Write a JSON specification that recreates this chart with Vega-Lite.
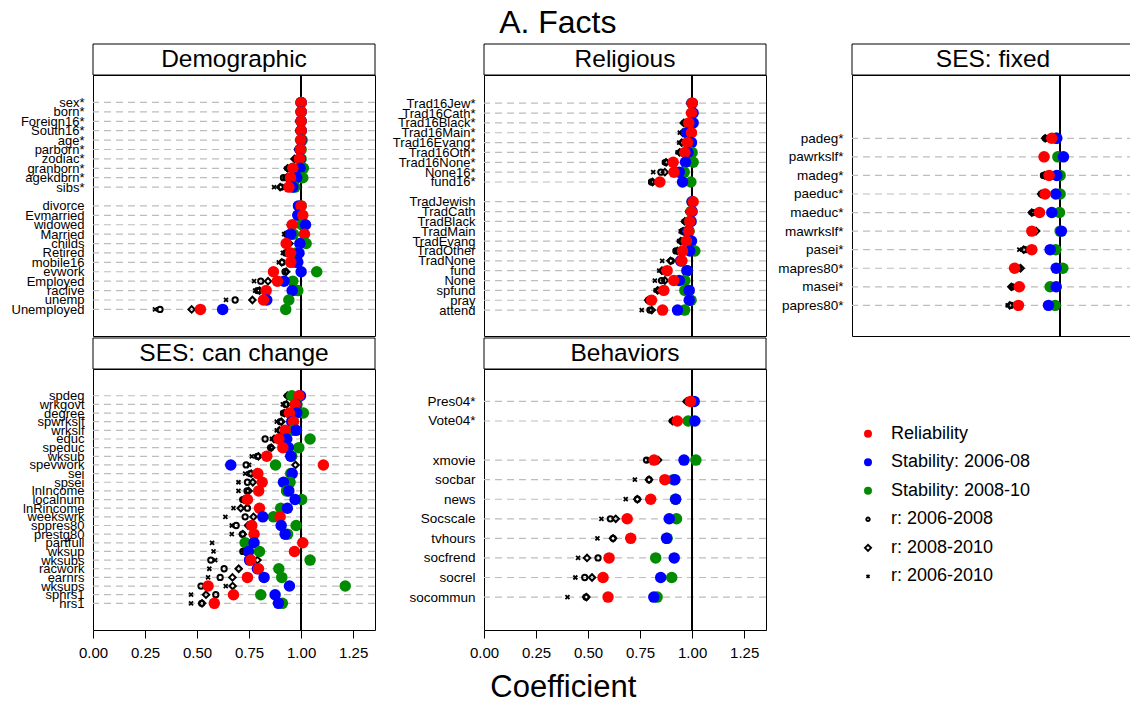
{
"$schema": "https://vega.github.io/schema/vega-lite/v6.json",
"padding": {"top": 6, "left": 0, "right": 0, "bottom": 0},
"background": "white",
"title": {"text": "A. Facts", "fontSize": 32, "fontWeight": "normal", "color": "black", "anchor": "middle", "offset": 4, "dx": -10},
"config": {
  "font": "Liberation Sans",
  "view": {"stroke": "black", "strokeWidth": 1},
  "axis": {"labelFont": "Liberation Sans", "titleFont": "Liberation Sans", "grid": false},
  "title": {"font": "Liberation Sans"}
},
"datasets": {
  "d": [
    {"p":"Dem","v":"sex*","r":1.0,"b":1.0,"g":1.0,"o":0.995,"d":0.995,"c":0.995},
    {"p":"Dem","v":"born*","r":1.0,"b":1.0,"g":1.0,"o":0.995,"d":0.995,"c":0.995},
    {"p":"Dem","v":"Foreign16*","r":1.0,"b":1.0,"g":1.0,"o":0.99,"d":0.99,"c":0.99},
    {"p":"Dem","v":"South16*","r":1.0,"b":1.0,"g":1.0,"o":0.99,"d":0.99,"c":0.99},
    {"p":"Dem","v":"age*","r":0.998,"b":1.0,"g":1.005,"o":0.99,"d":0.99,"c":0.99},
    {"p":"Dem","v":"parborn*","r":0.997,"b":0.995,"g":1.0,"o":0.985,"d":0.985,"c":0.985},
    {"p":"Dem","v":"zodiac*","r":0.992,"b":0.995,"g":1.0,"o":0.975,"d":0.968,"c":0.97},
    {"p":"Dem","v":"granborn*","r":0.96,"b":0.995,"g":1.011,"o":0.94,"d":0.935,"c":0.93},
    {"p":"Dem","v":"agekdbrn*","r":0.949,"b":0.979,"g":1.008,"o":0.915,"d":0.93,"c":0.92},
    {"p":"Dem","v":"sibs*","r":0.941,"b":0.96,"g":0.97,"o":0.905,"d":0.899,"c":0.87},
    {"p":"Dem","v":"divorce","r":1.0,"b":0.987,"g":1.0,"o":0.99,"d":0.99,"c":0.99},
    {"p":"Dem","v":"Evmarried","r":1.008,"b":0.984,"g":1.0,"o":0.98,"d":0.98,"c":0.975},
    {"p":"Dem","v":"widowed","r":0.957,"b":1.021,"g":1.003,"o":0.95,"d":0.95,"c":0.945},
    {"p":"Dem","v":"Married","r":1.016,"b":0.95,"g":0.963,"o":0.93,"d":0.935,"c":0.918},
    {"p":"Dem","v":"childs","r":0.928,"b":0.994,"g":1.024,"o":0.935,"d":0.944,"c":0.925},
    {"p":"Dem","v":"Retired","r":0.949,"b":0.99,"g":0.975,"o":0.925,"d":0.93,"c":0.912},
    {"p":"Dem","v":"mobile16","r":0.95,"b":0.984,"g":0.97,"o":0.91,"d":0.907,"c":0.893},
    {"p":"Dem","v":"evwork","r":0.867,"b":1.0,"g":1.075,"o":0.923,"d":0.928,"c":0.92},
    {"p":"Dem","v":"Employed","r":0.886,"b":0.918,"g":0.96,"o":0.806,"d":0.841,"c":0.774},
    {"p":"Dem","v":"raclive","r":0.832,"b":0.957,"g":0.984,"o":0.79,"d":0.8,"c":0.779},
    {"p":"Dem","v":"unemp","r":0.819,"b":0.835,"g":0.941,"o":0.683,"d":0.766,"c":0.639},
    {"p":"Dem","v":"Unemployed","r":0.516,"b":0.623,"g":0.926,"o":0.322,"d":0.474,"c":0.298},

    {"p":"Rel","v":"Trad16Jew*","r":1.0,"b":1.0,"g":1.0,"o":0.99,"d":0.99,"c":0.99},
    {"p":"Rel","v":"Trad16Cath*","r":0.997,"b":1.005,"g":1.0,"o":0.99,"d":0.99,"c":0.985},
    {"p":"Rel","v":"Trad16Black*","r":0.984,"b":1.005,"g":1.0,"o":0.965,"d":0.96,"c":0.957},
    {"p":"Rel","v":"Trad16Main*","r":0.997,"b":0.973,"g":0.985,"o":0.96,"d":0.955,"c":0.941},
    {"p":"Rel","v":"Trad16Evang*","r":0.978,"b":0.997,"g":0.99,"o":0.955,"d":0.95,"c":0.938},
    {"p":"Rel","v":"Trad16Oth*","r":0.965,"b":0.98,"g":1.0,"o":0.945,"d":0.94,"c":0.93},
    {"p":"Rel","v":"Trad16None*","r":0.909,"b":0.968,"g":1.005,"o":0.872,"d":0.875,"c":0.865},
    {"p":"Rel","v":"None16*","r":0.913,"b":0.938,"g":0.962,"o":0.85,"d":0.869,"c":0.813},
    {"p":"Rel","v":"fund16*","r":0.845,"b":0.954,"g":0.994,"o":0.805,"d":0.81,"c":0.8},
    {"p":"Rel","v":"TradJewish","r":1.005,"b":1.0,"g":1.0,"o":0.995,"d":0.995,"c":0.99},
    {"p":"Rel","v":"TradCath","r":0.997,"b":1.0,"g":0.995,"o":0.985,"d":0.985,"c":0.98},
    {"p":"Rel","v":"TradBlack","r":0.989,"b":0.995,"g":0.99,"o":0.97,"d":0.965,"c":0.96},
    {"p":"Rel","v":"TradMain","r":0.984,"b":0.98,"g":0.985,"o":0.955,"d":0.957,"c":0.945},
    {"p":"Rel","v":"TradEvang","r":0.973,"b":0.997,"g":0.99,"o":0.95,"d":0.945,"c":0.938},
    {"p":"Rel","v":"TradOther","r":0.954,"b":0.989,"g":1.013,"o":0.922,"d":0.93,"c":0.92},
    {"p":"Rel","v":"TradNone","r":0.95,"b":0.945,"g":0.95,"o":0.9,"d":0.896,"c":0.856},
    {"p":"Rel","v":"fund","r":0.88,"b":0.976,"g":0.975,"o":0.86,"d":0.855,"c":0.842},
    {"p":"Rel","v":"None","r":0.912,"b":0.938,"g":0.965,"o":0.853,"d":0.869,"c":0.821},
    {"p":"Rel","v":"spfund","r":0.864,"b":0.986,"g":0.965,"o":0.84,"d":0.834,"c":0.825},
    {"p":"Rel","v":"pray","r":0.805,"b":0.986,"g":0.995,"o":0.79,"d":0.789,"c":0.785},
    {"p":"Rel","v":"attend","r":0.858,"b":0.93,"g":0.964,"o":0.797,"d":0.806,"c":0.758},

    {"p":"Fix","v":"padeg*","r":0.96,"b":0.984,"g":0.98,"o":0.93,"d":0.928,"c":0.925},
    {"p":"Fix","v":"pawrkslf*","r":0.923,"b":1.016,"g":0.989,"o":0.915,"d":0.918,"c":0.91},
    {"p":"Fix","v":"madeg*","r":0.947,"b":0.984,"g":1.0,"o":0.92,"d":0.925,"c":0.915},
    {"p":"Fix","v":"paeduc*","r":0.928,"b":0.979,"g":1.0,"o":0.91,"d":0.909,"c":0.905},
    {"p":"Fix","v":"maeduc*","r":0.901,"b":0.96,"g":0.997,"o":0.87,"d":0.864,"c":0.86},
    {"p":"Fix","v":"mawrkslf*","r":0.864,"b":1.006,"g":1.0,"o":0.87,"d":0.885,"c":0.86},
    {"p":"Fix","v":"pasei*","r":0.864,"b":0.952,"g":0.979,"o":0.83,"d":0.825,"c":0.804},
    {"p":"Fix","v":"mapres80*","r":0.781,"b":0.981,"g":1.013,"o":0.8,"d":0.81,"c":0.79},
    {"p":"Fix","v":"masei*","r":0.804,"b":0.981,"g":0.952,"o":0.77,"d":0.766,"c":0.765},
    {"p":"Fix","v":"papres80*","r":0.8,"b":0.944,"g":0.976,"o":0.765,"d":0.758,"c":0.748},

    {"p":"Chg","v":"spdeg","r":0.99,"b":0.997,"g":0.955,"o":0.94,"d":0.934,"c":0.93},
    {"p":"Chg","v":"wrkgovt","r":0.971,"b":0.975,"g":0.98,"o":0.925,"d":0.93,"c":0.912},
    {"p":"Chg","v":"degree","r":0.944,"b":0.979,"g":1.011,"o":0.915,"d":0.92,"c":0.91},
    {"p":"Chg","v":"spwrkslf","r":0.963,"b":0.955,"g":0.96,"o":0.9,"d":0.905,"c":0.883},
    {"p":"Chg","v":"wrkslf","r":0.923,"b":0.976,"g":0.96,"o":0.9,"d":0.895,"c":0.883},
    {"p":"Chg","v":"educ","r":0.893,"b":0.931,"g":1.043,"o":0.827,"d":0.87,"c":0.86},
    {"p":"Chg","v":"speduc","r":0.912,"b":0.939,"g":0.989,"o":0.854,"d":0.856,"c":0.85},
    {"p":"Chg","v":"wksub","r":0.835,"b":0.95,"g":0.955,"o":0.79,"d":0.795,"c":0.763},
    {"p":"Chg","v":"spevwork","r":1.107,"b":0.662,"g":0.877,"o":0.736,"d":0.973,"c":0.75},
    {"p":"Chg","v":"sei","r":0.792,"b":0.957,"g":0.95,"o":0.755,"d":0.76,"c":0.731},
    {"p":"Chg","v":"spsei","r":0.813,"b":0.915,"g":0.947,"o":0.742,"d":0.768,"c":0.699},
    {"p":"Chg","v":"lnIncome","r":0.796,"b":0.941,"g":0.93,"o":0.74,"d":0.748,"c":0.699},
    {"p":"Chg","v":"localnum","r":0.742,"b":0.971,"g":1.003,"o":0.72,"d":0.725,"c":0.715},
    {"p":"Chg","v":"lnRincome","r":0.8,"b":0.934,"g":0.902,"o":0.742,"d":0.71,"c":0.675},
    {"p":"Chg","v":"weekswrk","r":0.899,"b":0.816,"g":0.867,"o":0.731,"d":0.771,"c":0.636},
    {"p":"Chg","v":"sppres80","r":0.763,"b":0.904,"g":0.976,"o":0.688,"d":0.745,"c":0.667},
    {"p":"Chg","v":"prestg80","r":0.774,"b":0.923,"g":0.935,"o":0.718,"d":0.72,"c":0.667},
    {"p":"Chg","v":"partfull","r":1.008,"b":0.774,"g":0.731,"o":0.74,"d":0.745,"c":0.572},
    {"p":"Chg","v":"wksup","r":0.968,"b":0.747,"g":0.8,"o":0.72,"d":0.73,"c":0.579},
    {"p":"Chg","v":"wksubs","r":0.758,"b":0.752,"g":1.043,"o":0.566,"d":0.79,"c":0.587},
    {"p":"Chg","v":"racwork","r":0.795,"b":0.79,"g":0.893,"o":0.63,"d":0.7,"c":0.559},
    {"p":"Chg","v":"earnrs","r":0.742,"b":0.822,"g":0.907,"o":0.611,"d":0.67,"c":0.553},
    {"p":"Chg","v":"wksups","r":0.553,"b":0.944,"g":1.212,"o":0.519,"d":0.671,"c":0.638},
    {"p":"Chg","v":"sphrs1","r":0.675,"b":0.875,"g":0.806,"o":0.59,"d":0.543,"c":0.471},
    {"p":"Chg","v":"hrs1","r":0.583,"b":0.891,"g":0.91,"o":0.522,"d":0.524,"c":0.471},

    {"p":"Beh","v":"Pres04*","r":0.992,"b":1.01,"g":1.0,"o":0.98,"d":0.973,"c":0.97},
    {"p":"Beh","v":"Vote04*","r":0.929,"b":1.013,"g":0.981,"o":0.91,"d":0.906,"c":0.9},
    {"p":"Beh","v":"xmovie","r":0.817,"b":0.961,"g":1.018,"o":0.781,"d":0.837,"c":0.79},
    {"p":"Beh","v":"socbar","r":0.869,"b":0.917,"g":0.91,"o":0.793,"d":0.793,"c":0.725},
    {"p":"Beh","v":"news","r":0.801,"b":0.921,"g":0.92,"o":0.737,"d":0.737,"c":0.681},
    {"p":"Beh","v":"Socscale","r":0.688,"b":0.89,"g":0.925,"o":0.607,"d":0.633,"c":0.564},
    {"p":"Beh","v":"tvhours","r":0.705,"b":0.877,"g":0.88,"o":0.62,"d":0.62,"c":0.545},
    {"p":"Beh","v":"socfrend","r":0.601,"b":0.914,"g":0.825,"o":0.548,"d":0.495,"c":0.452},
    {"p":"Beh","v":"socrel","r":0.572,"b":0.849,"g":0.902,"o":0.484,"d":0.519,"c":0.439},
    {"p":"Beh","v":"socommun","r":0.596,"b":0.816,"g":0.832,"o":0.49,"d":0.492,"c":0.401}
  ],
  "leg": [
    {"m":"r","label":"Reliability"},
    {"m":"b","label":"Stability: 2006-08"},
    {"m":"g","label":"Stability: 2008-10"},
    {"m":"o","label":"r: 2006-2008"},
    {"m":"d","label":"r: 2008-2010"},
    {"m":"c","label":"r: 2006-2010"}
  ]
},
"vconcat": [
 {"hconcat": [
  {"vconcat": [
    {"width": 282, "height": 31, "data": {"values": [{"t": "Demographic"}]}, "layer": [{"mark": {"type": "rect", "fill": "white", "stroke": "black", "strokeWidth": 1}, "encoding": {}}, {"mark": {"type": "text", "fontSize": 24.5, "color": "black", "baseline": "middle", "align": "center"}, "encoding": {"text": {"field": "t", "type": "nominal"}}}]},
    {"width": 282, "height": 261, "data": {"name": "d"}, "transform": [{"filter": "datum.p == 'Dem'"}],
     "layer": [
      {"mark": {"type": "rule", "color": "#bdbdbd", "strokeWidth": 1.2, "strokeDash": [7, 5]}, "encoding": {"y": {"field": "v", "type": "nominal", "scale": {"type": "point", "domain": ["  ","   ","sex*","born*","Foreign16*","South16*","age*","parborn*","zodiac*","granborn*","agekdbrn*","sibs*"," ","divorce","Evmarried","widowed","Married","childs","Retired","mobile16","evwork","Employed","raclive","unemp","Unemployed","    ","     "], "padding": 0.875, "align": 0.526}, "axis": {"title": null, "ticks": false, "tickSize": 0, "domain": false, "grid": false, "labelFontSize": 13, "labelColor": "black", "labelPadding": 9, "labelOverlap": false, "labelBound": false, "minExtent": 92, "maxExtent": 92}}}},
      {"mark": {"type": "rule", "color": "black", "strokeWidth": 1}, "encoding": {"x": {"datum": 1, "type": "quantitative", "scale": {"domain": [0, 1.355], "nice": false, "zero": false}, "axis": null}}},
      {"mark": {"type": "point", "shape": "M-1,-1L1,1M-1,1L1,-1", "filled": false, "size": 16, "strokeWidth": 1.8, "color": "black", "opacity": 1}, "encoding": {"x": {"field": "c", "type": "quantitative", "scale": {"domain": [0, 1.355], "nice": false, "zero": false}, "axis": null}, "y": {"field": "v", "type": "nominal", "scale": {"type": "point", "domain": ["  ","   ","sex*","born*","Foreign16*","South16*","age*","parborn*","zodiac*","granborn*","agekdbrn*","sibs*"," ","divorce","Evmarried","widowed","Married","childs","Retired","mobile16","evwork","Employed","raclive","unemp","Unemployed","    ","     "], "padding": 0.875, "align": 0.526}, "axis": {"title": null, "ticks": false, "tickSize": 0, "domain": false, "grid": false, "labelFontSize": 13, "labelColor": "black", "labelPadding": 9, "labelOverlap": false, "labelBound": false, "minExtent": 92, "maxExtent": 92}}}},
      {"mark": {"type": "point", "shape": "circle", "filled": false, "size": 28, "strokeWidth": 2, "color": "black", "opacity": 1}, "encoding": {"x": {"field": "o", "type": "quantitative", "scale": {"domain": [0, 1.355], "nice": false, "zero": false}, "axis": null}, "y": {"field": "v", "type": "nominal", "scale": {"type": "point", "domain": ["  ","   ","sex*","born*","Foreign16*","South16*","age*","parborn*","zodiac*","granborn*","agekdbrn*","sibs*"," ","divorce","Evmarried","widowed","Married","childs","Retired","mobile16","evwork","Employed","raclive","unemp","Unemployed","    ","     "], "padding": 0.875, "align": 0.526}, "axis": {"title": null, "ticks": false, "tickSize": 0, "domain": false, "grid": false, "labelFontSize": 13, "labelColor": "black", "labelPadding": 9, "labelOverlap": false, "labelBound": false, "minExtent": 92, "maxExtent": 92}}}},
      {"mark": {"type": "point", "shape": "diamond", "filled": false, "size": 42, "strokeWidth": 2, "color": "black", "opacity": 1}, "encoding": {"x": {"field": "d", "type": "quantitative", "scale": {"domain": [0, 1.355], "nice": false, "zero": false}, "axis": null}, "y": {"field": "v", "type": "nominal", "scale": {"type": "point", "domain": ["  ","   ","sex*","born*","Foreign16*","South16*","age*","parborn*","zodiac*","granborn*","agekdbrn*","sibs*"," ","divorce","Evmarried","widowed","Married","childs","Retired","mobile16","evwork","Employed","raclive","unemp","Unemployed","    ","     "], "padding": 0.875, "align": 0.526}, "axis": {"title": null, "ticks": false, "tickSize": 0, "domain": false, "grid": false, "labelFontSize": 13, "labelColor": "black", "labelPadding": 9, "labelOverlap": false, "labelBound": false, "minExtent": 92, "maxExtent": 92}}}},
      {"transform": [{"fold": ["g", "b", "r"], "as": ["m", "val"]}], "mark": {"type": "point", "shape": "circle", "filled": true, "size": 132, "opacity": 1}, "encoding": {"x": {"field": "val", "type": "quantitative", "scale": {"domain": [0, 1.355], "nice": false, "zero": false}, "axis": null}, "y": {"field": "v", "type": "nominal", "scale": {"type": "point", "domain": ["  ","   ","sex*","born*","Foreign16*","South16*","age*","parborn*","zodiac*","granborn*","agekdbrn*","sibs*"," ","divorce","Evmarried","widowed","Married","childs","Retired","mobile16","evwork","Employed","raclive","unemp","Unemployed","    ","     "], "padding": 0.875, "align": 0.526}, "axis": {"title": null, "ticks": false, "tickSize": 0, "domain": false, "grid": false, "labelFontSize": 13, "labelColor": "black", "labelPadding": 9, "labelOverlap": false, "labelBound": false, "minExtent": 92, "maxExtent": 92}}, "color": {"field": "m", "type": "nominal", "scale": {"domain": ["g", "b", "r"], "range": ["#008b00", "#0000ff", "#ff0000"]}, "legend": null}}}
     ]}
  ], "spacing": 0, "bounds": "flush"},

  {"vconcat": [
    {"width": 282, "height": 31, "data": {"values": [{"t": "Religious"}]}, "layer": [{"mark": {"type": "rect", "fill": "white", "stroke": "black", "strokeWidth": 1}, "encoding": {}}, {"mark": {"type": "text", "fontSize": 24.5, "color": "black", "baseline": "middle", "align": "center"}, "encoding": {"text": {"field": "t", "type": "nominal"}}}]},
    {"width": 282, "height": 261, "data": {"name": "d"}, "transform": [{"filter": "datum.p == 'Rel'"}],
     "layer": [
      {"mark": {"type": "rule", "color": "#bdbdbd", "strokeWidth": 1.2, "strokeDash": [7, 5]}, "encoding": {"y": {"field": "v", "type": "nominal", "scale": {"type": "point", "domain": ["  ","   ","Trad16Jew*","Trad16Cath*","Trad16Black*","Trad16Main*","Trad16Evang*","Trad16Oth*","Trad16None*","None16*","fund16*"," ","TradJewish","TradCath","TradBlack","TradMain","TradEvang","TradOther","TradNone","fund","None","spfund","pray","attend","    ","     "], "padding": 0.745, "align": 0.577}, "axis": {"title": null, "ticks": false, "tickSize": 0, "domain": false, "grid": false, "labelFontSize": 13, "labelColor": "black", "labelPadding": 9, "labelOverlap": false, "labelBound": false, "minExtent": 106, "maxExtent": 106}}}},
      {"mark": {"type": "rule", "color": "black", "strokeWidth": 1}, "encoding": {"x": {"datum": 1, "type": "quantitative", "scale": {"domain": [0, 1.355], "nice": false, "zero": false}, "axis": null}}},
      {"mark": {"type": "point", "shape": "M-1,-1L1,1M-1,1L1,-1", "filled": false, "size": 16, "strokeWidth": 1.8, "color": "black", "opacity": 1}, "encoding": {"x": {"field": "c", "type": "quantitative", "scale": {"domain": [0, 1.355], "nice": false, "zero": false}, "axis": null}, "y": {"field": "v", "type": "nominal", "scale": {"type": "point", "domain": ["  ","   ","Trad16Jew*","Trad16Cath*","Trad16Black*","Trad16Main*","Trad16Evang*","Trad16Oth*","Trad16None*","None16*","fund16*"," ","TradJewish","TradCath","TradBlack","TradMain","TradEvang","TradOther","TradNone","fund","None","spfund","pray","attend","    ","     "], "padding": 0.745, "align": 0.577}, "axis": {"title": null, "ticks": false, "tickSize": 0, "domain": false, "grid": false, "labelFontSize": 13, "labelColor": "black", "labelPadding": 9, "labelOverlap": false, "labelBound": false, "minExtent": 106, "maxExtent": 106}}}},
      {"mark": {"type": "point", "shape": "circle", "filled": false, "size": 28, "strokeWidth": 2, "color": "black", "opacity": 1}, "encoding": {"x": {"field": "o", "type": "quantitative", "scale": {"domain": [0, 1.355], "nice": false, "zero": false}, "axis": null}, "y": {"field": "v", "type": "nominal", "scale": {"type": "point", "domain": ["  ","   ","Trad16Jew*","Trad16Cath*","Trad16Black*","Trad16Main*","Trad16Evang*","Trad16Oth*","Trad16None*","None16*","fund16*"," ","TradJewish","TradCath","TradBlack","TradMain","TradEvang","TradOther","TradNone","fund","None","spfund","pray","attend","    ","     "], "padding": 0.745, "align": 0.577}, "axis": {"title": null, "ticks": false, "tickSize": 0, "domain": false, "grid": false, "labelFontSize": 13, "labelColor": "black", "labelPadding": 9, "labelOverlap": false, "labelBound": false, "minExtent": 106, "maxExtent": 106}}}},
      {"mark": {"type": "point", "shape": "diamond", "filled": false, "size": 42, "strokeWidth": 2, "color": "black", "opacity": 1}, "encoding": {"x": {"field": "d", "type": "quantitative", "scale": {"domain": [0, 1.355], "nice": false, "zero": false}, "axis": null}, "y": {"field": "v", "type": "nominal", "scale": {"type": "point", "domain": ["  ","   ","Trad16Jew*","Trad16Cath*","Trad16Black*","Trad16Main*","Trad16Evang*","Trad16Oth*","Trad16None*","None16*","fund16*"," ","TradJewish","TradCath","TradBlack","TradMain","TradEvang","TradOther","TradNone","fund","None","spfund","pray","attend","    ","     "], "padding": 0.745, "align": 0.577}, "axis": {"title": null, "ticks": false, "tickSize": 0, "domain": false, "grid": false, "labelFontSize": 13, "labelColor": "black", "labelPadding": 9, "labelOverlap": false, "labelBound": false, "minExtent": 106, "maxExtent": 106}}}},
      {"transform": [{"fold": ["g", "b", "r"], "as": ["m", "val"]}], "mark": {"type": "point", "shape": "circle", "filled": true, "size": 132, "opacity": 1}, "encoding": {"x": {"field": "val", "type": "quantitative", "scale": {"domain": [0, 1.355], "nice": false, "zero": false}, "axis": null}, "y": {"field": "v", "type": "nominal", "scale": {"type": "point", "domain": ["  ","   ","Trad16Jew*","Trad16Cath*","Trad16Black*","Trad16Main*","Trad16Evang*","Trad16Oth*","Trad16None*","None16*","fund16*"," ","TradJewish","TradCath","TradBlack","TradMain","TradEvang","TradOther","TradNone","fund","None","spfund","pray","attend","    ","     "], "padding": 0.745, "align": 0.577}, "axis": {"title": null, "ticks": false, "tickSize": 0, "domain": false, "grid": false, "labelFontSize": 13, "labelColor": "black", "labelPadding": 9, "labelOverlap": false, "labelBound": false, "minExtent": 106, "maxExtent": 106}}, "color": {"field": "m", "type": "nominal", "scale": {"domain": ["g", "b", "r"], "range": ["#008b00", "#0000ff", "#ff0000"]}, "legend": null}}}
     ]}
  ], "spacing": 0, "bounds": "flush"},

  {"vconcat": [
    {"width": 282, "height": 31, "data": {"values": [{"t": "SES: fixed"}]}, "layer": [{"mark": {"type": "rect", "fill": "white", "stroke": "black", "strokeWidth": 1}, "encoding": {}}, {"mark": {"type": "text", "fontSize": 24.5, "color": "black", "baseline": "middle", "align": "center"}, "encoding": {"text": {"field": "t", "type": "nominal"}}}]},
    {"width": 282, "height": 261, "data": {"name": "d"}, "transform": [{"filter": "datum.p == 'Fix'"}],
     "layer": [
      {"mark": {"type": "rule", "color": "#bdbdbd", "strokeWidth": 1.2, "strokeDash": [7, 5]}, "encoding": {"y": {"field": "v", "type": "nominal", "scale": {"type": "point", "domain": ["  ","   ","    ","padeg*","pawrkslf*","madeg*","paeduc*","maeduc*","mawrkslf*","pasei*","mapres80*","masei*","papres80*","     "], "padding": 0.53, "align": 0.387}, "axis": {"title": null, "ticks": false, "tickSize": 0, "domain": false, "grid": false, "labelFontSize": 13.5, "labelColor": "black", "labelPadding": 9, "labelOverlap": false, "labelBound": false, "minExtent": 83, "maxExtent": 83}}}},
      {"mark": {"type": "rule", "color": "black", "strokeWidth": 1}, "encoding": {"x": {"datum": 1, "type": "quantitative", "scale": {"domain": [0, 1.355], "nice": false, "zero": false}, "axis": null}}},
      {"mark": {"type": "point", "shape": "M-1,-1L1,1M-1,1L1,-1", "filled": false, "size": 16, "strokeWidth": 1.8, "color": "black", "opacity": 1}, "encoding": {"x": {"field": "c", "type": "quantitative", "scale": {"domain": [0, 1.355], "nice": false, "zero": false}, "axis": null}, "y": {"field": "v", "type": "nominal", "scale": {"type": "point", "domain": ["  ","   ","    ","padeg*","pawrkslf*","madeg*","paeduc*","maeduc*","mawrkslf*","pasei*","mapres80*","masei*","papres80*","     "], "padding": 0.53, "align": 0.387}, "axis": {"title": null, "ticks": false, "tickSize": 0, "domain": false, "grid": false, "labelFontSize": 13.5, "labelColor": "black", "labelPadding": 9, "labelOverlap": false, "labelBound": false, "minExtent": 83, "maxExtent": 83}}}},
      {"mark": {"type": "point", "shape": "circle", "filled": false, "size": 28, "strokeWidth": 2, "color": "black", "opacity": 1}, "encoding": {"x": {"field": "o", "type": "quantitative", "scale": {"domain": [0, 1.355], "nice": false, "zero": false}, "axis": null}, "y": {"field": "v", "type": "nominal", "scale": {"type": "point", "domain": ["  ","   ","    ","padeg*","pawrkslf*","madeg*","paeduc*","maeduc*","mawrkslf*","pasei*","mapres80*","masei*","papres80*","     "], "padding": 0.53, "align": 0.387}, "axis": {"title": null, "ticks": false, "tickSize": 0, "domain": false, "grid": false, "labelFontSize": 13.5, "labelColor": "black", "labelPadding": 9, "labelOverlap": false, "labelBound": false, "minExtent": 83, "maxExtent": 83}}}},
      {"mark": {"type": "point", "shape": "diamond", "filled": false, "size": 42, "strokeWidth": 2, "color": "black", "opacity": 1}, "encoding": {"x": {"field": "d", "type": "quantitative", "scale": {"domain": [0, 1.355], "nice": false, "zero": false}, "axis": null}, "y": {"field": "v", "type": "nominal", "scale": {"type": "point", "domain": ["  ","   ","    ","padeg*","pawrkslf*","madeg*","paeduc*","maeduc*","mawrkslf*","pasei*","mapres80*","masei*","papres80*","     "], "padding": 0.53, "align": 0.387}, "axis": {"title": null, "ticks": false, "tickSize": 0, "domain": false, "grid": false, "labelFontSize": 13.5, "labelColor": "black", "labelPadding": 9, "labelOverlap": false, "labelBound": false, "minExtent": 83, "maxExtent": 83}}}},
      {"transform": [{"fold": ["g", "b", "r"], "as": ["m", "val"]}], "mark": {"type": "point", "shape": "circle", "filled": true, "size": 132, "opacity": 1}, "encoding": {"x": {"field": "val", "type": "quantitative", "scale": {"domain": [0, 1.355], "nice": false, "zero": false}, "axis": null}, "y": {"field": "v", "type": "nominal", "scale": {"type": "point", "domain": ["  ","   ","    ","padeg*","pawrkslf*","madeg*","paeduc*","maeduc*","mawrkslf*","pasei*","mapres80*","masei*","papres80*","     "], "padding": 0.53, "align": 0.387}, "axis": {"title": null, "ticks": false, "tickSize": 0, "domain": false, "grid": false, "labelFontSize": 13.5, "labelColor": "black", "labelPadding": 9, "labelOverlap": false, "labelBound": false, "minExtent": 83, "maxExtent": 83}}, "color": {"field": "m", "type": "nominal", "scale": {"domain": ["g", "b", "r"], "range": ["#008b00", "#0000ff", "#ff0000"]}, "legend": null}}}
     ]}
  ], "spacing": 0, "bounds": "flush"}
 ], "spacing": 0},

 {"hconcat": [
  {"vconcat": [
    {"width": 282, "height": 31, "data": {"values": [{"t": "SES: can change"}]}, "layer": [{"mark": {"type": "rect", "fill": "white", "stroke": "black", "strokeWidth": 1}, "encoding": {}}, {"mark": {"type": "text", "fontSize": 24.5, "color": "black", "baseline": "middle", "align": "center"}, "encoding": {"text": {"field": "t", "type": "nominal"}}}]},
    {"width": 282, "height": 261, "data": {"name": "d"}, "transform": [{"filter": "datum.p == 'Chg'"}],
     "layer": [
      {"mark": {"type": "rule", "color": "#bdbdbd", "strokeWidth": 1.2, "strokeDash": [7, 5]}, "encoding": {"y": {"field": "v", "type": "nominal", "scale": {"type": "point", "domain": ["  ","   ","    ","spdeg","wrkgovt","degree","spwrkslf","wrkslf","educ","speduc","wksub","spevwork","sei","spsei","lnIncome","localnum","lnRincome","weekswrk","sppres80","prestg80","partfull","wksup","wksubs","racwork","earnrs","wksups","sphrs1","hrs1","     ","      ","       "], "padding": 0.085, "align": 0.53}, "axis": {"title": null, "ticks": false, "tickSize": 0, "domain": false, "grid": false, "labelFontSize": 13, "labelColor": "black", "labelPadding": 9, "labelOverlap": false, "labelBound": false, "minExtent": 92, "maxExtent": 92}}}},
      {"mark": {"type": "rule", "color": "black", "strokeWidth": 1}, "encoding": {"x": {"datum": 1, "type": "quantitative", "scale": {"domain": [0, 1.355], "nice": false, "zero": false}, "axis": {"title": null, "values": [0, 0.25, 0.5, 0.75, 1, 1.25], "format": ".2f", "tickSize": 8, "tickColor": "black", "domain": false, "grid": false, "labelFontSize": 15, "labelColor": "black", "labelPadding": 7, "labelFlush": false, "labelOverlap": false}}}},
      {"mark": {"type": "point", "shape": "M-1,-1L1,1M-1,1L1,-1", "filled": false, "size": 16, "strokeWidth": 1.8, "color": "black", "opacity": 1}, "encoding": {"x": {"field": "c", "type": "quantitative", "scale": {"domain": [0, 1.355], "nice": false, "zero": false}, "axis": {"title": null, "values": [0, 0.25, 0.5, 0.75, 1, 1.25], "format": ".2f", "tickSize": 8, "tickColor": "black", "domain": false, "grid": false, "labelFontSize": 15, "labelColor": "black", "labelPadding": 7, "labelFlush": false, "labelOverlap": false}}, "y": {"field": "v", "type": "nominal", "scale": {"type": "point", "domain": ["  ","   ","    ","spdeg","wrkgovt","degree","spwrkslf","wrkslf","educ","speduc","wksub","spevwork","sei","spsei","lnIncome","localnum","lnRincome","weekswrk","sppres80","prestg80","partfull","wksup","wksubs","racwork","earnrs","wksups","sphrs1","hrs1","     ","      ","       "], "padding": 0.085, "align": 0.53}, "axis": {"title": null, "ticks": false, "tickSize": 0, "domain": false, "grid": false, "labelFontSize": 13, "labelColor": "black", "labelPadding": 9, "labelOverlap": false, "labelBound": false, "minExtent": 92, "maxExtent": 92}}}},
      {"mark": {"type": "point", "shape": "circle", "filled": false, "size": 28, "strokeWidth": 2, "color": "black", "opacity": 1}, "encoding": {"x": {"field": "o", "type": "quantitative", "scale": {"domain": [0, 1.355], "nice": false, "zero": false}, "axis": {"title": null, "values": [0, 0.25, 0.5, 0.75, 1, 1.25], "format": ".2f", "tickSize": 8, "tickColor": "black", "domain": false, "grid": false, "labelFontSize": 15, "labelColor": "black", "labelPadding": 7, "labelFlush": false, "labelOverlap": false}}, "y": {"field": "v", "type": "nominal", "scale": {"type": "point", "domain": ["  ","   ","    ","spdeg","wrkgovt","degree","spwrkslf","wrkslf","educ","speduc","wksub","spevwork","sei","spsei","lnIncome","localnum","lnRincome","weekswrk","sppres80","prestg80","partfull","wksup","wksubs","racwork","earnrs","wksups","sphrs1","hrs1","     ","      ","       "], "padding": 0.085, "align": 0.53}, "axis": {"title": null, "ticks": false, "tickSize": 0, "domain": false, "grid": false, "labelFontSize": 13, "labelColor": "black", "labelPadding": 9, "labelOverlap": false, "labelBound": false, "minExtent": 92, "maxExtent": 92}}}},
      {"mark": {"type": "point", "shape": "diamond", "filled": false, "size": 42, "strokeWidth": 2, "color": "black", "opacity": 1}, "encoding": {"x": {"field": "d", "type": "quantitative", "scale": {"domain": [0, 1.355], "nice": false, "zero": false}, "axis": {"title": null, "values": [0, 0.25, 0.5, 0.75, 1, 1.25], "format": ".2f", "tickSize": 8, "tickColor": "black", "domain": false, "grid": false, "labelFontSize": 15, "labelColor": "black", "labelPadding": 7, "labelFlush": false, "labelOverlap": false}}, "y": {"field": "v", "type": "nominal", "scale": {"type": "point", "domain": ["  ","   ","    ","spdeg","wrkgovt","degree","spwrkslf","wrkslf","educ","speduc","wksub","spevwork","sei","spsei","lnIncome","localnum","lnRincome","weekswrk","sppres80","prestg80","partfull","wksup","wksubs","racwork","earnrs","wksups","sphrs1","hrs1","     ","      ","       "], "padding": 0.085, "align": 0.53}, "axis": {"title": null, "ticks": false, "tickSize": 0, "domain": false, "grid": false, "labelFontSize": 13, "labelColor": "black", "labelPadding": 9, "labelOverlap": false, "labelBound": false, "minExtent": 92, "maxExtent": 92}}}},
      {"transform": [{"fold": ["g", "b", "r"], "as": ["m", "val"]}], "mark": {"type": "point", "shape": "circle", "filled": true, "size": 132, "opacity": 1}, "encoding": {"x": {"field": "val", "type": "quantitative", "scale": {"domain": [0, 1.355], "nice": false, "zero": false}, "axis": {"title": null, "values": [0, 0.25, 0.5, 0.75, 1, 1.25], "format": ".2f", "tickSize": 8, "tickColor": "black", "domain": false, "grid": false, "labelFontSize": 15, "labelColor": "black", "labelPadding": 7, "labelFlush": false, "labelOverlap": false}}, "y": {"field": "v", "type": "nominal", "scale": {"type": "point", "domain": ["  ","   ","    ","spdeg","wrkgovt","degree","spwrkslf","wrkslf","educ","speduc","wksub","spevwork","sei","spsei","lnIncome","localnum","lnRincome","weekswrk","sppres80","prestg80","partfull","wksup","wksubs","racwork","earnrs","wksups","sphrs1","hrs1","     ","      ","       "], "padding": 0.085, "align": 0.53}, "axis": {"title": null, "ticks": false, "tickSize": 0, "domain": false, "grid": false, "labelFontSize": 13, "labelColor": "black", "labelPadding": 9, "labelOverlap": false, "labelBound": false, "minExtent": 92, "maxExtent": 92}}, "color": {"field": "m", "type": "nominal", "scale": {"domain": ["g", "b", "r"], "range": ["#008b00", "#0000ff", "#ff0000"]}, "legend": null}}}
     ]}
  ], "spacing": 0, "bounds": "flush"},

  {"vconcat": [
    {"width": 282, "height": 31, "data": {"values": [{"t": "Behaviors"}]}, "layer": [{"mark": {"type": "rect", "fill": "white", "stroke": "black", "strokeWidth": 1}, "encoding": {}}, {"mark": {"type": "text", "fontSize": 24.5, "color": "black", "baseline": "middle", "align": "center"}, "encoding": {"text": {"field": "t", "type": "nominal"}}}]},
    {"width": 282, "height": 261, "data": {"name": "d"}, "transform": [{"filter": "datum.p == 'Beh'"}],
     "layer": [
      {"mark": {"type": "rule", "color": "#bdbdbd", "strokeWidth": 1.2, "strokeDash": [7, 5]}, "encoding": {"y": {"field": "v", "type": "nominal", "scale": {"type": "point", "domain": ["  ","Pres04*","Vote04*"," ","xmovie","socbar","news","Socscale","tvhours","socfrend","socrel","socommun","   "], "padding": 0.67, "align": 0.49}, "axis": {"title": null, "ticks": false, "tickSize": 0, "domain": false, "grid": false, "labelFontSize": 13.5, "labelColor": "black", "labelPadding": 9, "labelOverlap": false, "labelBound": false, "minExtent": 106, "maxExtent": 106}}}},
      {"mark": {"type": "rule", "color": "black", "strokeWidth": 1}, "encoding": {"x": {"datum": 1, "type": "quantitative", "scale": {"domain": [0, 1.355], "nice": false, "zero": false}, "axis": {"title": null, "values": [0, 0.25, 0.5, 0.75, 1, 1.25], "format": ".2f", "tickSize": 8, "tickColor": "black", "domain": false, "grid": false, "labelFontSize": 15, "labelColor": "black", "labelPadding": 7, "labelFlush": false, "labelOverlap": false}}}},
      {"mark": {"type": "point", "shape": "M-1,-1L1,1M-1,1L1,-1", "filled": false, "size": 16, "strokeWidth": 1.8, "color": "black", "opacity": 1}, "encoding": {"x": {"field": "c", "type": "quantitative", "scale": {"domain": [0, 1.355], "nice": false, "zero": false}, "axis": {"title": null, "values": [0, 0.25, 0.5, 0.75, 1, 1.25], "format": ".2f", "tickSize": 8, "tickColor": "black", "domain": false, "grid": false, "labelFontSize": 15, "labelColor": "black", "labelPadding": 7, "labelFlush": false, "labelOverlap": false}}, "y": {"field": "v", "type": "nominal", "scale": {"type": "point", "domain": ["  ","Pres04*","Vote04*"," ","xmovie","socbar","news","Socscale","tvhours","socfrend","socrel","socommun","   "], "padding": 0.67, "align": 0.49}, "axis": {"title": null, "ticks": false, "tickSize": 0, "domain": false, "grid": false, "labelFontSize": 13.5, "labelColor": "black", "labelPadding": 9, "labelOverlap": false, "labelBound": false, "minExtent": 106, "maxExtent": 106}}}},
      {"mark": {"type": "point", "shape": "circle", "filled": false, "size": 28, "strokeWidth": 2, "color": "black", "opacity": 1}, "encoding": {"x": {"field": "o", "type": "quantitative", "scale": {"domain": [0, 1.355], "nice": false, "zero": false}, "axis": {"title": null, "values": [0, 0.25, 0.5, 0.75, 1, 1.25], "format": ".2f", "tickSize": 8, "tickColor": "black", "domain": false, "grid": false, "labelFontSize": 15, "labelColor": "black", "labelPadding": 7, "labelFlush": false, "labelOverlap": false}}, "y": {"field": "v", "type": "nominal", "scale": {"type": "point", "domain": ["  ","Pres04*","Vote04*"," ","xmovie","socbar","news","Socscale","tvhours","socfrend","socrel","socommun","   "], "padding": 0.67, "align": 0.49}, "axis": {"title": null, "ticks": false, "tickSize": 0, "domain": false, "grid": false, "labelFontSize": 13.5, "labelColor": "black", "labelPadding": 9, "labelOverlap": false, "labelBound": false, "minExtent": 106, "maxExtent": 106}}}},
      {"mark": {"type": "point", "shape": "diamond", "filled": false, "size": 42, "strokeWidth": 2, "color": "black", "opacity": 1}, "encoding": {"x": {"field": "d", "type": "quantitative", "scale": {"domain": [0, 1.355], "nice": false, "zero": false}, "axis": {"title": null, "values": [0, 0.25, 0.5, 0.75, 1, 1.25], "format": ".2f", "tickSize": 8, "tickColor": "black", "domain": false, "grid": false, "labelFontSize": 15, "labelColor": "black", "labelPadding": 7, "labelFlush": false, "labelOverlap": false}}, "y": {"field": "v", "type": "nominal", "scale": {"type": "point", "domain": ["  ","Pres04*","Vote04*"," ","xmovie","socbar","news","Socscale","tvhours","socfrend","socrel","socommun","   "], "padding": 0.67, "align": 0.49}, "axis": {"title": null, "ticks": false, "tickSize": 0, "domain": false, "grid": false, "labelFontSize": 13.5, "labelColor": "black", "labelPadding": 9, "labelOverlap": false, "labelBound": false, "minExtent": 106, "maxExtent": 106}}}},
      {"transform": [{"fold": ["g", "b", "r"], "as": ["m", "val"]}], "mark": {"type": "point", "shape": "circle", "filled": true, "size": 132, "opacity": 1}, "encoding": {"x": {"field": "val", "type": "quantitative", "scale": {"domain": [0, 1.355], "nice": false, "zero": false}, "axis": {"title": null, "values": [0, 0.25, 0.5, 0.75, 1, 1.25], "format": ".2f", "tickSize": 8, "tickColor": "black", "domain": false, "grid": false, "labelFontSize": 15, "labelColor": "black", "labelPadding": 7, "labelFlush": false, "labelOverlap": false}}, "y": {"field": "v", "type": "nominal", "scale": {"type": "point", "domain": ["  ","Pres04*","Vote04*"," ","xmovie","socbar","news","Socscale","tvhours","socfrend","socrel","socommun","   "], "padding": 0.67, "align": 0.49}, "axis": {"title": null, "ticks": false, "tickSize": 0, "domain": false, "grid": false, "labelFontSize": 13.5, "labelColor": "black", "labelPadding": 9, "labelOverlap": false, "labelBound": false, "minExtent": 106, "maxExtent": 106}}, "color": {"field": "m", "type": "nominal", "scale": {"domain": ["g", "b", "r"], "range": ["#008b00", "#0000ff", "#ff0000"]}, "legend": null}}}
     ]}
  ], "spacing": 0, "bounds": "flush"},

  {"width": 200, "height": 292, "view": {"stroke": null}, "data": {"name": "leg"},
   "layer": [
    {"transform": [{"filter": "datum.m == 'r' || datum.m == 'b' || datum.m == 'g'"}], "mark": {"type": "point", "shape": "circle", "filled": true, "size": 64, "opacity": 1}, "encoding": {"y": {"field": "label", "type": "nominal", "scale": {"type": "point", "domain": ["s1","s2","s3","Reliability","Stability: 2006-08","Stability: 2008-10","r: 2006-2008","r: 2008-2010","r: 2006-2010","s4"], "padding": 0.62, "align": 0.29}, "axis": null}, "color": {"field": "m", "type": "nominal", "scale": {"domain": ["g", "b", "r"], "range": ["#008b00", "#0000ff", "#ff0000"]}, "legend": null}}},
    {"transform": [{"filter": "datum.m == 'o'"}], "mark": {"type": "point", "shape": "circle", "filled": false, "size": 12, "strokeWidth": 2, "color": "black", "opacity": 1}, "encoding": {"y": {"field": "label", "type": "nominal", "scale": {"type": "point", "domain": ["s1","s2","s3","Reliability","Stability: 2006-08","Stability: 2008-10","r: 2006-2008","r: 2008-2010","r: 2006-2010","s4"], "padding": 0.62, "align": 0.29}, "axis": null}}},
    {"transform": [{"filter": "datum.m == 'd'"}], "mark": {"type": "point", "shape": "diamond", "filled": false, "size": 36, "strokeWidth": 2, "color": "black", "opacity": 1}, "encoding": {"y": {"field": "label", "type": "nominal", "scale": {"type": "point", "domain": ["s1","s2","s3","Reliability","Stability: 2006-08","Stability: 2008-10","r: 2006-2008","r: 2008-2010","r: 2006-2010","s4"], "padding": 0.62, "align": 0.29}, "axis": null}}},
    {"transform": [{"filter": "datum.m == 'c'"}], "mark": {"type": "point", "shape": "M-1,-1L1,1M-1,1L1,-1", "filled": false, "size": 9, "strokeWidth": 1.8, "color": "black", "opacity": 1}, "encoding": {"y": {"field": "label", "type": "nominal", "scale": {"type": "point", "domain": ["s1","s2","s3","Reliability","Stability: 2006-08","Stability: 2008-10","r: 2006-2008","r: 2008-2010","r: 2006-2010","s4"], "padding": 0.62, "align": 0.29}, "axis": null}}},
    {"mark": {"type": "text", "align": "left", "baseline": "middle", "dx": 23, "fontSize": 18, "color": "black"}, "encoding": {"y": {"field": "label", "type": "nominal", "scale": {"type": "point", "domain": ["s1","s2","s3","Reliability","Stability: 2006-08","Stability: 2008-10","r: 2006-2008","r: 2008-2010","r: 2006-2010","s4"], "padding": 0.62, "align": 0.29}, "axis": null}, "text": {"field": "label", "type": "nominal"}}}
   ]}
 ], "spacing": 0,
 "title": {"text": "Coefficient", "orient": "bottom", "fontSize": 31, "fontWeight": "normal", "color": "black", "anchor": "middle", "offset": 12, "dx": 48}}
],
"spacing": -2
}
